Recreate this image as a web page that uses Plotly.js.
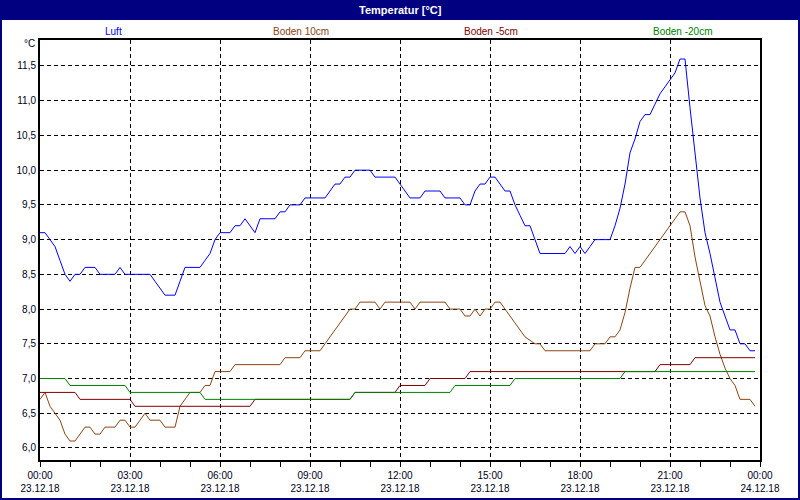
<!DOCTYPE html>
<html>
<head>
<meta charset="utf-8">
<script src="https://cdn.plot.ly/plotly-3.0.1.min.js"></script>
<style>html,body{margin:0;padding:0;background:#fff;}#chart{width:800px;height:500px;}</style>
</head>
<body>
<div id="chart"></div>
<script>
// ---- data (10-minute samples, 23.12.18 00:00 .. 23:50) ----
const seriesNames = ['Luft', 'Boden 10cm', 'Boden -5cm', 'Boden -20cm'];
const seriesColors = ['#0000FF', '#8B4513', '#800000', '#008000'];

const luft = [
 9.1,9.1,9.0,8.9,8.7,8.5,8.4,8.5,8.5,8.6,8.6,8.6,8.5,8.5,8.5,8.5,8.6,8.5,
 8.5,8.5,8.5,8.5,8.5,8.4,8.3,8.2,8.2,8.2,8.4,8.6,8.6,8.6,8.6,8.7,8.8,9.0,
 9.1,9.1,9.1,9.2,9.2,9.3,9.2,9.1,9.3,9.3,9.3,9.3,9.4,9.4,9.5,9.5,9.5,9.6,
 9.6,9.6,9.6,9.6,9.7,9.8,9.8,9.9,9.9,10.0,10.0,10.0,10.0,9.9,9.9,9.9,9.9,9.9,
 9.8,9.7,9.6,9.6,9.6,9.7,9.7,9.7,9.7,9.6,9.6,9.6,9.6,9.5,9.5,9.7,9.8,9.8,
 9.9,9.9,9.8,9.7,9.7,9.5,9.35,9.2,9.2,9.0,8.8,8.8,8.8,8.8,8.8,8.8,8.9,8.8,
 8.9,8.8,8.9,9.0,9.0,9.0,9.0,9.2,9.45,9.8,10.25,10.45,10.7,10.8,10.8,10.95,11.1,11.2,
 11.3,11.4,11.6,11.6,10.9,10.2,9.6,9.1,8.8,8.45,8.1,7.9,7.7,7.7,7.5,7.5,7.4,7.4
];
const boden10 = [
 6.7,6.8,6.6,6.5,6.4,6.2,6.1,6.1,6.2,6.3,6.3,6.2,6.2,6.3,6.3,6.3,6.4,6.4,
 6.3,6.3,6.4,6.5,6.4,6.4,6.4,6.3,6.3,6.3,6.6,6.7,6.8,6.8,6.8,6.9,6.9,7.1,
 7.1,7.1,7.1,7.2,7.2,7.2,7.2,7.2,7.2,7.2,7.2,7.2,7.2,7.3,7.3,7.3,7.3,7.4,
 7.4,7.4,7.4,7.5,7.6,7.7,7.8,7.9,8.0,8.0,8.1,8.1,8.1,8.1,8.0,8.1,8.1,8.1,
 8.1,8.1,8.1,8.0,8.1,8.1,8.1,8.1,8.1,8.1,8.0,8.0,8.0,7.9,7.9,8.0,7.9,8.0,
 8.0,8.1,8.1,8.0,7.9,7.8,7.7,7.6,7.55,7.5,7.5,7.4,7.4,7.4,7.4,7.4,7.4,7.4,
 7.4,7.4,7.4,7.5,7.5,7.5,7.6,7.6,7.7,7.95,8.3,8.6,8.6,8.7,8.8,8.9,9.0,9.1,
 9.2,9.3,9.4,9.4,9.2,8.75,8.4,8.05,7.9,7.6,7.35,7.15,7.0,6.9,6.7,6.7,6.7,6.6
];
const boden5 = [
 6.8,6.8,6.8,6.8,6.8,6.8,6.8,6.8,6.7,6.7,6.7,6.7,6.7,6.7,6.7,6.7,6.7,6.7,
 6.7,6.6,6.6,6.6,6.6,6.6,6.6,6.6,6.6,6.6,6.6,6.6,6.6,6.6,6.6,6.6,6.6,6.6,
 6.6,6.6,6.6,6.6,6.6,6.6,6.6,6.7,6.7,6.7,6.7,6.7,6.7,6.7,6.7,6.7,6.7,6.7,
 6.7,6.7,6.7,6.7,6.7,6.7,6.7,6.7,6.7,6.8,6.8,6.8,6.8,6.8,6.8,6.8,6.8,6.8,
 6.9,6.9,6.9,6.9,6.9,6.9,7.0,7.0,7.0,7.0,7.0,7.0,7.0,7.0,7.1,7.1,7.1,7.1,
 7.1,7.1,7.1,7.1,7.1,7.1,7.1,7.1,7.1,7.1,7.1,7.1,7.1,7.1,7.1,7.1,7.1,7.1,
 7.1,7.1,7.1,7.1,7.1,7.1,7.1,7.1,7.1,7.1,7.1,7.1,7.1,7.1,7.1,7.1,7.2,7.2,
 7.2,7.2,7.2,7.2,7.2,7.3,7.3,7.3,7.3,7.3,7.3,7.3,7.3,7.3,7.3,7.3,7.3,7.3
];
const boden20 = [
 7.0,7.0,7.0,7.0,7.0,7.0,6.9,6.9,6.9,6.9,6.9,6.9,6.9,6.9,6.9,6.9,6.9,6.9,
 6.8,6.8,6.8,6.8,6.8,6.8,6.8,6.8,6.8,6.8,6.8,6.8,6.8,6.8,6.8,6.7,6.7,6.7,
 6.7,6.7,6.7,6.7,6.7,6.7,6.7,6.7,6.7,6.7,6.7,6.7,6.7,6.7,6.7,6.7,6.7,6.7,
 6.7,6.7,6.7,6.7,6.7,6.7,6.7,6.7,6.7,6.8,6.8,6.8,6.8,6.8,6.8,6.8,6.8,6.8,
 6.8,6.8,6.8,6.8,6.8,6.8,6.8,6.8,6.8,6.8,6.8,6.9,6.9,6.9,6.9,6.9,6.9,6.9,
 6.9,6.9,6.9,6.9,6.9,7.0,7.0,7.0,7.0,7.0,7.0,7.0,7.0,7.0,7.0,7.0,7.0,7.0,
 7.0,7.0,7.0,7.0,7.0,7.0,7.0,7.0,7.0,7.1,7.1,7.1,7.1,7.1,7.1,7.1,7.1,7.1,
 7.1,7.1,7.1,7.1,7.1,7.1,7.1,7.1,7.1,7.1,7.1,7.1,7.1,7.1,7.1,7.1,7.1,7.1
];

const tickHours = [0, 3, 6, 9, 12, 15, 18, 21, 24];
const tickTimes = ['00:00','03:00','06:00','09:00','12:00','15:00','18:00','21:00','00:00'];
const tickDates = ['23.12.18','23.12.18','23.12.18','23.12.18','23.12.18','23.12.18','23.12.18','23.12.18','24.12.18'];
const yTicks = [6.0, 6.5, 7.0, 7.5, 8.0, 8.5, 9.0, 9.5, 10.0, 10.5, 11.0, 11.5];
const titleText = 'Temperatur [°C]';
const unitText = '°C';

// sample times in hours (10-minute logging interval)
const hours = luft.map((_, i) => i * 10 / 60);

// ---- layout helpers (pixel -> paper) ----
const W = 800, H = 500, L = 40, R = 40, T = 40, B = 40;
const pw = W - L - R, ph = H - T - B;
const px = x => (x - L) / pw;
const py = y => (H - B - y) / ph;

const FONT = 'Liberation Sans, Arial, sans-serif';
const allSeries = [luft, boden10, boden5, boden20];

const traces = allSeries.map((vals, k) => ({
  type: 'scatter', mode: 'lines', x: hours, y: vals, name: seriesNames[k],
  line: {color: seriesColors[k], width: 1, shape: 'linear'}, hoverinfo: 'skip'
}));

const legendX = [113, 301, 491, 682];
const annotations = [
  {text: '<b>' + titleText + '</b>', x: px(400), y: py(10), xref: 'paper', yref: 'paper',
   showarrow: false, xanchor: 'center', yanchor: 'middle', font: {family: FONT, size: 11, color: '#ffffff'}},
  {text: unitText, x: px(37), y: py(44), xref: 'paper', yref: 'paper', showarrow: false,
   xanchor: 'right', yanchor: 'middle', font: {family: FONT, size: 10, color: '#000020'}}
];
seriesNames.forEach((n, k) => annotations.push({
  text: n, x: px(legendX[k]), y: py(31), xref: 'paper', yref: 'paper', showarrow: false,
  xanchor: 'center', yanchor: 'middle', font: {family: FONT, size: 10, color: seriesColors[k]}
}));

const shapes = [
  {type: 'rect', xref: 'paper', yref: 'paper', x0: px(0), x1: px(800), y0: py(20), y1: py(0),
   fillcolor: '#000080', line: {width: 0}, layer: 'below'},
  {type: 'rect', xref: 'paper', yref: 'paper', x0: px(1), x1: px(799), y0: py(499), y1: py(1),
   fillcolor: 'rgba(0,0,0,0)', line: {color: '#000080', width: 2}, layer: 'above'}
];

const layout = {
  width: W, height: H,
  margin: {l: L, r: R, t: T, b: B, pad: 0},
  paper_bgcolor: '#ffffff', plot_bgcolor: '#ffffff',
  showlegend: false,
  separators: ',.',
  font: {family: FONT, size: 10, color: '#000020'},
  xaxis: {
    range: [0, 24], tickmode: 'array', tickvals: tickHours,
    ticktext: tickTimes.map((t, i) => t + '<br>' + tickDates[i]),
    ticks: 'outside', ticklen: 5, tickcolor: '#000', tickwidth: 1,
    minor: {dtick: 1, tick0: 0, ticks: 'outside', ticklen: 5, tickcolor: '#000', showgrid: false},
    showgrid: true, gridcolor: '#000', gridwidth: 1, griddash: '4px,3px',
    showline: true, linecolor: '#000', linewidth: 2, mirror: true,
    zeroline: false, fixedrange: true,
    tickfont: {family: FONT, size: 10, color: '#000020'}
  },
  yaxis: {
    range: [5.827, 11.874], tickmode: 'array', tickvals: yTicks, tickformat: '.1f',
    ticks: '', showgrid: true, gridcolor: '#000', gridwidth: 1, griddash: '4px,3px',
    showline: true, linecolor: '#000', linewidth: 2, mirror: true,
    zeroline: false, fixedrange: true,
    tickfont: {family: FONT, size: 10, color: '#000020'}
  },
  shapes: shapes,
  annotations: annotations
};

Plotly.newPlot('chart', traces, layout, {displayModeBar: false, staticPlot: true});
</script>
</body>
</html>
